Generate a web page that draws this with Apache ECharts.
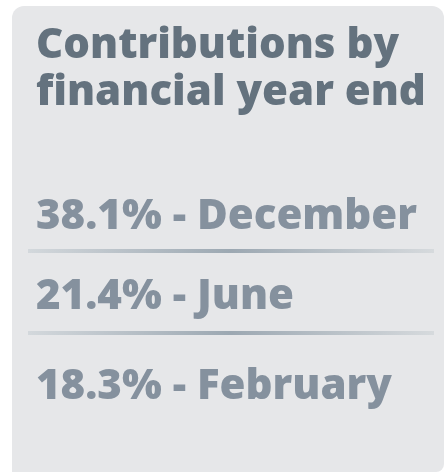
<!DOCTYPE html>
<html>
<head>
<meta charset="utf-8">
<script src="https://cdn.jsdelivr.net/npm/echarts@6/dist/echarts.min.js"></script>
<style>
html,body{margin:0;padding:0;background:#ffffff;}
#chart{width:446px;height:473px;}
</style>
</head>
<body>
<div id="chart"></div>
<script>
var titleLines = ['Contributions by', 'financial year end'];
var shares = [38.1, 21.4, 18.3];
var months = ['December', 'June', 'February'];

var FONT = '"Open Sans", "Noto Sans", sans-serif';
var itemTops = [196, 276, 366];
var dividerYs = [249, 331];

var chart = echarts.init(document.getElementById('chart'), null, {renderer: 'canvas'});
var graphics = [];
graphics.push({
  type: 'rect', z: 0,
  shape: {x: 12, y: 6, width: 432, height: 466, r: [12, 12, 8, 0]},
  style: {fill: '#e6e7e9'}
});
for (var i = 0; i < shares.length; i++) {
  graphics.push({
    type: 'text', z: 2,
    x: 36, y: itemTops[i],
    style: {
      text: shares[i].toFixed(1) + '% - ' + months[i],
      font: '800 42px ' + FONT,
      fill: '#85919e',
      verticalAlign: 'top'
    }
  });
}
for (var j = 0; j < dividerYs.length; j++) {
  graphics.push({
    type: 'rect', z: 1,
    shape: {x: 28, y: dividerYs[j], width: 406, height: 4},
    style: {
      fill: new echarts.graphic.LinearGradient(0, 0, 1, 0, [
        {offset: 0, color: '#d3d8dc'},
        {offset: 0.5, color: '#9ca8b2'},
        {offset: 1, color: '#d6dadd'}
      ])
    }
  });
}
chart.setOption({
  backgroundColor: '#ffffff',
  animation: false,
  title: {
    text: titleLines.join('\n'),
    left: 36, top: 23, padding: 0,
    textStyle: {
      fontFamily: FONT, fontWeight: 800, fontSize: 42, lineHeight: 47,
      color: '#64727e'
    }
  },
  graphic: graphics
});
</script>
</body>
</html>
